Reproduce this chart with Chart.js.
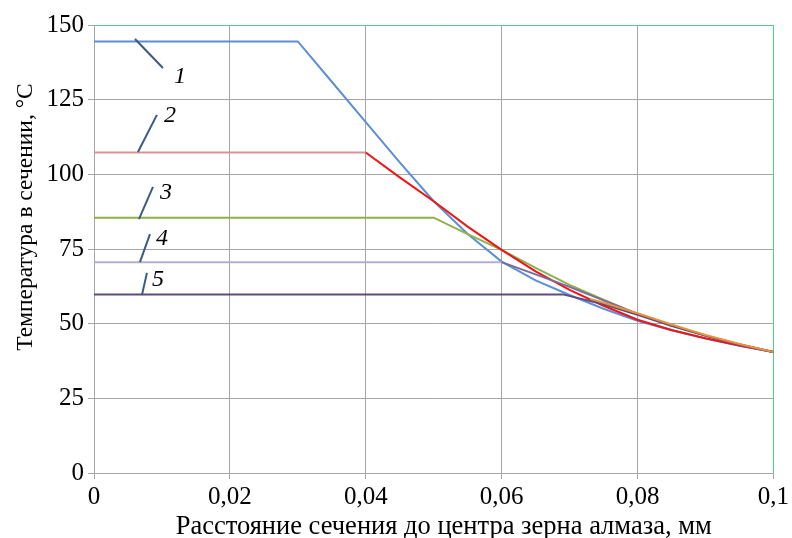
<!DOCTYPE html>
<html>
<head>
<meta charset="utf-8">
<script src="https://cdn.jsdelivr.net/npm/chart.js@4/dist/chart.umd.min.js"></script>
<style>
html,body{margin:0;padding:0;background:#fff;}
#wrap{width:792px;height:538px;position:relative;}
</style>
</head>
<body>
<div id="wrap"><canvas id="c" width="792" height="538"></canvas></div>
<script>
// ---- data ----
const xTitle = 'Расстояние сечения до центра зерна алмаза, мм';
const yTitle = 'Температура в сечении, °С';
const seriesNames = ['1', '2', '3', '4', '5', '6'];

const s1X = [0, 0.03, 0.035, 0.04, 0.045, 0.05, 0.055, 0.06, 0.065, 0.07, 0.075, 0.08, 0.085, 0.09, 0.095, 0.1];
const s1Y = [144.5, 144.5, 131, 117.5, 104, 91, 80, 70.8, 64.5, 59.6, 55, 51, 47.8, 45, 42.6, 40.5];

const s2X = [0, 0.04, 0.045, 0.05, 0.055, 0.06, 0.065, 0.07, 0.075, 0.08, 0.085, 0.09, 0.095, 0.1];
const s2Y = [107.3, 107.3, 99, 91, 82.5, 74.7, 67.5, 61.3, 56, 51.3, 47.9, 45.1, 42.7, 40.5];

const s3X = [0, 0.05, 0.055, 0.06, 0.065, 0.07, 0.075, 0.08, 0.085, 0.09, 0.095, 0.1];
const s3Y = [85.5, 85.5, 80, 74.7, 68.7, 63, 58, 53.3, 49.3, 46, 43, 40.5];

const s4X = [0, 0.06, 0.065, 0.07, 0.075, 0.08, 0.085, 0.09, 0.095, 0.1];
const s4Y = [70.6, 70.6, 66.5, 62.3, 57.8, 53.3, 49.5, 46, 43, 40.5];

const s5X = [0, 0.069, 0.075, 0.08, 0.085, 0.09, 0.095, 0.1];
const s5Y = [59.8, 59.8, 56.5, 53, 49.3, 46, 43, 40.5];

const s6X = [0.073, 0.075, 0.08, 0.085, 0.09, 0.095, 0.1];
const s6Y = [58.3, 57, 53.5, 49.7, 46.2, 43.2, 40.5];

const xMin = 0, xMax = 0.1, xStep = 0.02;
const yMin = 0, yMax = 150, yStep = 25;

// curve number labels with leader lines (data units)
const curveLabels = ['1', '2', '3', '4', '5'];
const leaderFromX = [0.00603, 0.00647, 0.00662, 0.00676, 0.00706];
const leaderFromY = [145.3, 107.5, 85.0, 70.6, 59.6];
const leaderToX   = [0.01015, 0.00926, 0.00868, 0.00824, 0.00779];
const leaderToY   = [135.6, 119.9, 95.8, 80.0, 67.0];
const labelX      = [0.01265, 0.01118, 0.01059, 0.0100, 0.00941];
const labelY      = [132.6, 119.6, 93.8, 78.3, 64.6];

// ---- build ----
const pts = (xs, ys) => xs.map((x, i) => ({x: x, y: ys[i]}));
const FONT = "'Liberation Serif', 'DejaVu Serif', serif";
const GRID = '#A6A6A6';
const GREEN = '#55CC8A';

const flatSlope = (flat, slope) => ctx => (ctx.p0.parsed.y === ctx.p1.parsed.y ? flat : slope);

const datasets = [
  {label: seriesNames[0], data: pts(s1X, s1Y), borderColor: '#5B8FD8', order: 5},
  {label: seriesNames[1], data: pts(s2X, s2Y), borderColor: '#F01414', order: 3,
   segment: {borderColor: flatSlope('#D99391', '#F01414')}},
  {label: seriesNames[2], data: pts(s3X, s3Y), borderColor: '#8FB04A', order: 4},
  {label: seriesNames[3], data: pts(s4X, s4Y), borderColor: '#B6ADD2', order: 2,
   segment: {borderColor: flatSlope('#B6ADD2', '#7A6A9E')}},
  {label: seriesNames[4], data: pts(s5X, s5Y), borderColor: '#5E4B7F', order: 1},
  {label: seriesNames[5], data: pts(s6X, s6Y), borderColor: '#E8903C', order: 0}
].map(d => Object.assign({borderWidth: 2, pointRadius: 0, tension: 0, fill: false}, d));

const fmtX = v => {
  const r = Math.round(v * 100) / 100;
  return String(r).replace('.', ',');
};

const overlay = {
  id: 'overlay',
  afterDatasetsDraw(chart) {
    const ctx = chart.ctx, xs = chart.scales.x, ys = chart.scales.y;
    ctx.save();
    ctx.strokeStyle = '#3D5A80';
    ctx.lineWidth = 2;
    for (let i = 0; i < curveLabels.length; i++) {
      ctx.beginPath();
      ctx.moveTo(xs.getPixelForValue(leaderFromX[i]), ys.getPixelForValue(leaderFromY[i]));
      ctx.lineTo(xs.getPixelForValue(leaderToX[i]), ys.getPixelForValue(leaderToY[i]));
      ctx.stroke();
    }
    ctx.fillStyle = '#000';
    ctx.font = "italic 24px " + FONT;
    ctx.textAlign = 'center';
    ctx.textBaseline = 'middle';
    for (let i = 0; i < curveLabels.length; i++) {
      ctx.fillText(curveLabels[i], xs.getPixelForValue(labelX[i]), ys.getPixelForValue(labelY[i]));
    }
    ctx.restore();
  },
  afterDraw(chart) {
    const ctx = chart.ctx, a = chart.chartArea;
    ctx.save();
    ctx.fillStyle = '#000';
    ctx.textAlign = 'center';
    ctx.textBaseline = 'alphabetic';
    ctx.font = "26.5px " + FONT;
    ctx.fillText(xTitle, (a.left + a.right) / 2 + 10, 534);
    ctx.font = "23.5px " + FONT;
    ctx.translate(32, (a.top + a.bottom) / 2 - 32);
    ctx.rotate(-Math.PI / 2);
    ctx.fillText(yTitle, 0, 0);
    ctx.restore();
  }
};

new Chart(document.getElementById('c'), {
  type: 'line',
  data: {datasets: datasets},
  options: {
    responsive: false,
    animation: false,
    devicePixelRatio: 1,
    layout: {padding: {top: 25, right: 18, left: 0, bottom: 0}},
    plugins: {legend: {display: false}, tooltip: {enabled: false}},
    scales: {
      x: {
        type: 'linear', min: xMin, max: xMax,
        afterFit: s => { s.height = 65; },
        ticks: {stepSize: xStep, color: '#000', font: {family: FONT, size: 25}, padding: 3,
                callback: v => fmtX(v), maxRotation: 0, autoSkip: false},
        grid: {color: c => (c.tick && Math.abs(c.tick.value - xMax) < 1e-9 ? GREEN : GRID),
               tickColor: GRID, tickLength: 6, lineWidth: 1},
        border: {color: GRID, width: 1}
      },
      y: {
        type: 'linear', min: yMin, max: yMax,
        afterFit: s => { s.width = 94; },
        ticks: {stepSize: yStep, color: '#000', font: {family: FONT, size: 25}, padding: 4},
        grid: {color: c => (c.tick && c.tick.value === yMax ? GREEN : GRID),
               tickColor: GRID, tickLength: 6, lineWidth: 1},
        border: {color: GRID, width: 1}
      }
    }
  },
  plugins: [overlay]
});
</script>
</body>
</html>
